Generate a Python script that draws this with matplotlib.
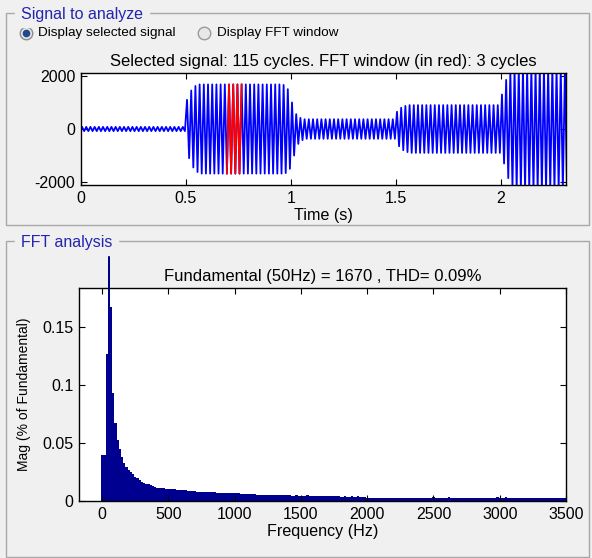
import matplotlib
matplotlib.use('Agg')
import matplotlib.pyplot as plt
import numpy as np
from matplotlib.patches import Rectangle
from matplotlib.lines import Line2D
from matplotlib.transforms import Bbox, TransformedBbox

# ---- data ----
# peak amplitude of each 50 Hz cycle of the selected signal (cycle k spans 0.02k .. 0.02(k+1) s)
cycle_peaks = (
    [80] * 25                      # 0 - 0.5 s
    + [1100, 1450, 1620]
    + [1680] * 20                  # 0.56 - 0.96 s
    + [1660, 1500]
    + [1000, 560, 420]
    + [370] * 22                   # 1.06 - 1.5 s
    + [650, 800, 870]
    + [900] * 22                   # 1.56 - 2.0 s
    + [1300, 1850, 2200]
    + [2300] * 13                  # 2.06 - 2.32 s
)
f0 = 50.0
fft_cycles = [35, 36, 37]          # FFT window (in red)

# FFT magnitudes (% of fundamental), one bin every 50/3 Hz from 0 Hz to 3500 Hz
fft_mag = [
    0.040, 0.040, 0.127, 100.0, 0.167, 0.093, 0.067, 0.053, 0.045, 0.038,
    0.033, 0.029, 0.027, 0.025, 0.023, 0.021, 0.0195, 0.018, 0.0166, 0.0158,
    0.015, 0.0144, 0.0135, 0.0125, 0.0118,
    0.0114, 0.0112, 0.0110, 0.0108, 0.0106, 0.0104, 0.0103, 0.0102, 0.0100, 0.0098, 0.0096,
    0.0095, 0.0093, 0.0091, 0.0089, 0.0087, 0.0086,
    0.0082, 0.0081, 0.0080, 0.0080, 0.0079, 0.0079, 0.0078, 0.0077,
    0.0074, 0.0074, 0.0073, 0.0073, 0.0072, 0.0072, 0.0071, 0.0070,
    0.0067, 0.0066, 0.0066, 0.0065, 0.0065, 0.0064,
    0.0062, 0.0062, 0.0061, 0.0061, 0.0060, 0.0059,
    0.0056, 0.0055, 0.0055, 0.0054, 0.0054, 0.0053, 0.0053, 0.0052,
    0.0052, 0.0051, 0.0051, 0.0050, 0.0050, 0.0049, 0.0048, 0.0048,
    0.0047, 0.0046, 0.0050, 0.0046, 0.0045, 0.0045, 0.0044, 0.0050, 0.0044, 0.0044,
    0.0043, 0.0043, 0.0043, 0.0043, 0.0042, 0.0042, 0.0042, 0.0042, 0.0041, 0.0041,
    0.0041, 0.0041, 0.0036, 0.0035, 0.0040, 0.0035, 0.0035, 0.0040, 0.0034, 0.0034,
    0.0040, 0.0033, 0.0033, 0.0033,
    0.0030, 0.0030, 0.0030, 0.0029, 0.0029, 0.0029, 0.0029, 0.0029, 0.0029, 0.0029, 0.0029,
    0.0028, 0.0028, 0.0028, 0.0028, 0.0028, 0.0028, 0.0028, 0.0028, 0.0028, 0.0028, 0.0028,
    0.0028, 0.0028, 0.0028, 0.0028, 0.0028, 0.0028, 0.0028, 0.0028, 0.0033, 0.0028, 0.0028,
    0.0028, 0.0028, 0.0028, 0.0028, 0.0033, 0.0028, 0.0028, 0.0028, 0.0028, 0.0028, 0.0028,
    0.0027, 0.0027, 0.0027, 0.0027, 0.0027, 0.0027, 0.0027, 0.0027, 0.0027, 0.0027, 0.0022,
    0.0022, 0.0022, 0.0022, 0.0022, 0.0035, 0.0022, 0.0022, 0.0022, 0.0035, 0.0022, 0.0022, 0.0022,
    0.0022, 0.0022, 0.0022, 0.0022, 0.0022, 0.0022, 0.0022, 0.0022, 0.0022, 0.0022, 0.0022, 0.0022,
    0.0022, 0.0022, 0.0022, 0.0022, 0.0022, 0.0022, 0.0022, 0.0022, 0.0022, 0.0022, 0.0022, 0.0022,
]
fft_df = 50.0 / 3

time_ticks = [0, 0.5, 1, 1.5, 2]
time_ticklabels = ['0', '0.5', '1', '1.5', '2']
sig_ticks = [-2000, 0, 2000]
freq_ticks = [0, 500, 1000, 1500, 2000, 2500, 3000, 3500]
mag_ticks = [0, 0.05, 0.1, 0.15]
mag_ticklabels = ['0', '0.05', '0.1', '0.15']

# ---- layout helpers (pixel -> figure fraction) ----
W, H = 592, 558
def fx(x):
    return x / W
def fy(y):
    return 1 - y / H

plt.rcParams['font.family'] = ['Liberation Sans', 'DejaVu Sans']
plt.rcParams['axes.unicode_minus'] = False
fig = plt.figure(figsize=(W / 100, H / 100), dpi=100, facecolor='#f0f0f0')

panel_blue = '#2424b0'
for (x0, y0, x1, y1) in [(6, 13, 589, 225), (6, 241, 589, 557)]:
    fig.add_artist(Rectangle((fx(x0), fy(y1)), fx(x1) - fx(x0), fy(y0) - fy(y1),
                             transform=fig.transFigure, fill=False, ec='#a8a8a8', lw=1))
fig.text(fx(21), fy(14), 'Signal to analyze', color=panel_blue, fontsize=11.5,
         va='center', ha='left', backgroundcolor='#f0f0f0')
fig.text(fx(21), fy(242), 'FFT analysis', color=panel_blue, fontsize=11.5,
         va='center', ha='left', backgroundcolor='#f0f0f0')

# radio buttons
fig.add_artist(Line2D([fx(26)], [fy(33)], marker='o', ms=9, mfc='#e4e4e4', mec='#8c8c8c',
                      transform=fig.transFigure))
fig.add_artist(Line2D([fx(26)], [fy(33)], marker='o', ms=4.5, mfc='#1d4a8c', mec='#1d4a8c',
                      transform=fig.transFigure))
fig.add_artist(Line2D([fx(204)], [fy(33)], marker='o', ms=9, mfc='#e8e8e8', mec='#9a9a9a',
                      transform=fig.transFigure))
fig.text(fx(38), fy(33), 'Display selected signal', fontsize=9.7, va='center')
fig.text(fx(217), fy(33), 'Display FFT window', fontsize=9.7, va='center')

# ---- signal axes ----
ax1 = fig.add_axes([fx(81), fy(185), fx(566) - fx(81), fy(73) - fy(185)])
t_pts = [0.0]
v_pts = [0.0]
for k, a in enumerate(cycle_peaks):
    t_pts += [(k + 0.25) / f0, (k + 0.75) / f0]
    v_pts += [a, -a]
t_pts = np.array(t_pts)
v_pts = np.array(v_pts)
ax1.plot(t_pts, v_pts, color='#0000ff', lw=1.3)
i0 = 2 * fft_cycles[0]
i1 = 2 * (fft_cycles[-1] + 1) + 1
ax1.plot(t_pts[i0:i1 + 1], v_pts[i0:i1 + 1], color='#ff0000', lw=1.3)
ax1.set_xlim(0, 2.31)
ax1.set_ylim(-2110, 2110)
ax1.set_xticks(time_ticks)
ax1.set_xticklabels(time_ticklabels)
ax1.set_yticks(sig_ticks)
ax1.set_xlabel('Time (s)', fontsize=11.6, labelpad=2)
ax1.set_title('Selected signal: 115 cycles. FFT window (in red): 3 cycles', fontsize=12, pad=5)

# ---- FFT axes ----
ax2 = fig.add_axes([fx(79), fy(501), fx(566) - fx(79), fy(288) - fy(501)])
freqs = np.arange(len(fft_mag)) * fft_df
bars = ax2.bar(freqs, fft_mag, width=fft_df, color='#000090', linewidth=0, antialiased=False)
# fundamental bar runs out of the axes, clipped by the panel like in the GUI
fund = bars[int(round(f0 / fft_df))]
fund.set_clip_path(None)
fund.set_clip_box(TransformedBbox(Bbox.from_extents(0, 0, 1, fy(251)), fig.transFigure))
ax2.set_xlim(-175, 3500)
ax2.set_ylim(0, 0.1836)
ax2.set_xticks(freq_ticks)
ax2.set_yticks(mag_ticks)
ax2.set_yticklabels(mag_ticklabels)
ax2.set_xlabel('Frequency (Hz)', fontsize=11.6, labelpad=2)
ax2.set_ylabel('Mag (% of Fundamental)', fontsize=10, labelpad=8)
ax2.set_title('Fundamental (50Hz) = 1670 , THD= 0.09%', fontsize=12, pad=5)

for ax in (ax1, ax2):
    ax.tick_params(direction='in', length=4, top=True, right=True, labelsize=11.5, pad=4)
    for s in ax.spines.values():
        s.set_linewidth(1)

fig.savefig('out.png', dpi=100, facecolor=fig.get_facecolor())
